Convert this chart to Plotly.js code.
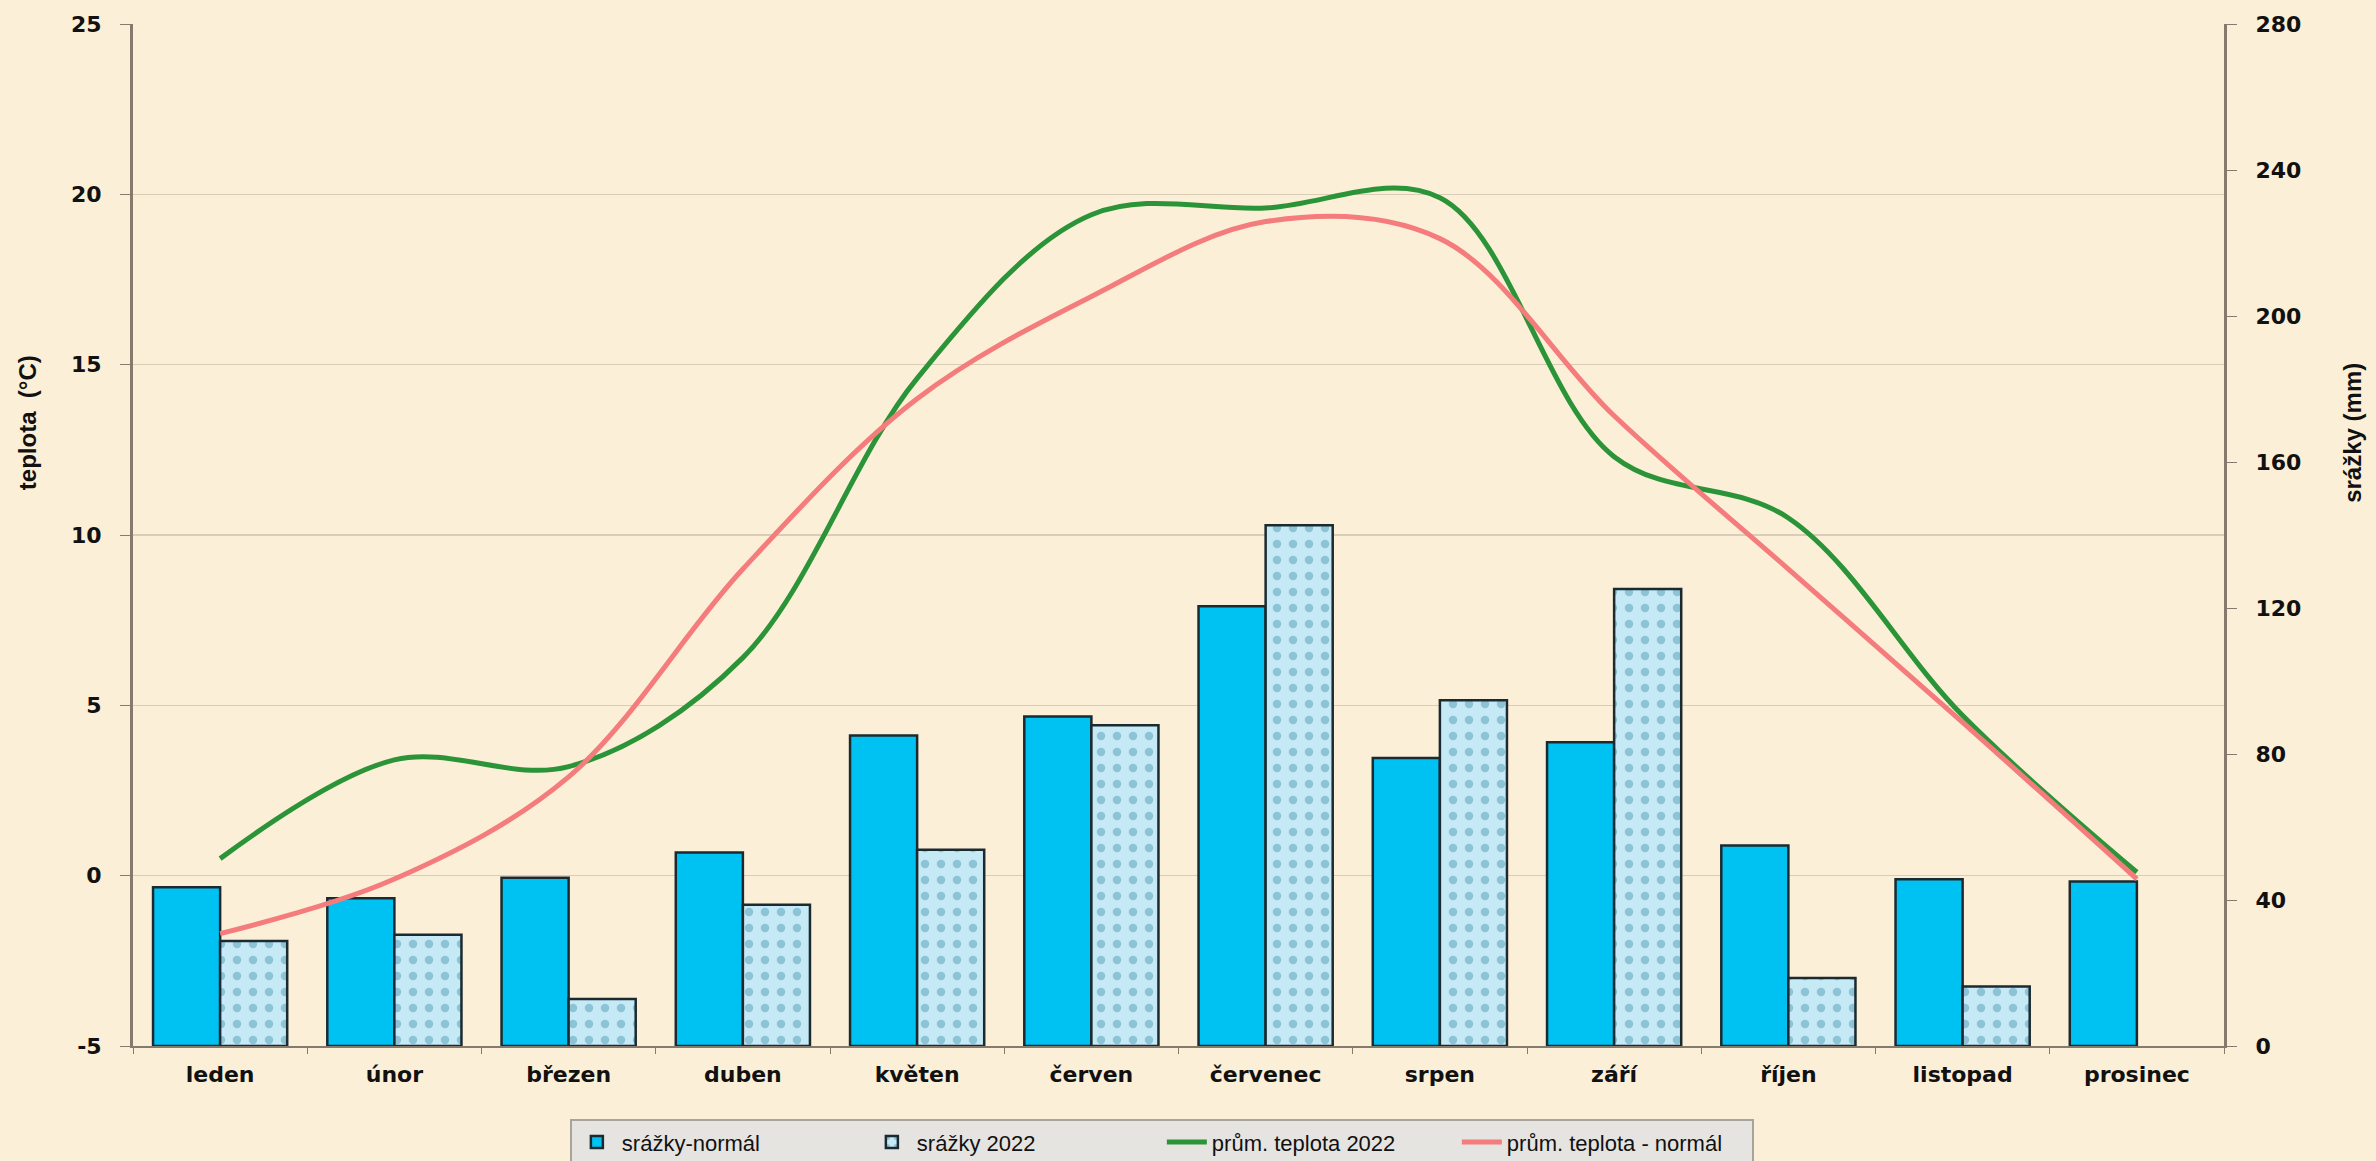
<!DOCTYPE html>
<html>
<head>
<meta charset="utf-8">
<script src="https://cdn.plot.ly/plotly-3.0.1.min.js"></script>
<style>
  html, body { margin: 0; padding: 0; background: #fcefd7; }
  #chart { width: 2376px; height: 1161px; }
</style>
</head>
<body>
<div id="chart"></div>
<script>
// Categories (months)
const months = ["leden", "únor", "březen", "duben", "květen", "červen",
                "červenec", "srpen", "září", "říjen", "listopad", "prosinec"];

// Precipitation (mm) – right axis
const srazkyNormal = [43.5, 40.5, 46.1, 53.0, 85.1, 90.3, 120.5, 78.9, 83.2, 54.9, 45.7, 45.1];
const srazky2022   = [28.8, 30.5, 12.9, 38.7, 53.8, 87.9, 142.7, 94.7, 125.2, 18.6, 16.3, null];

// Mean temperature (°C) – left axis
const teplota2022   = [0.5, 3.4, 3.2, 6.4, 14.6, 19.4, 19.6, 19.9, 12.3, 10.5, 4.7, 0.1];
const teplotaNormal = [-1.7, -0.1, 2.9, 9.0, 14.0, 17.0, 19.2, 18.7, 13.5, 9.0, 4.5, -0.1];

// Axis ticks
const tempTicks = [-5, 0, 5, 10, 15, 20, 25];
const tempTickLabels = ["-5", "0", "5", "10", "15", "20", "25"];
const mmTicks = [0, 40, 80, 120, 160, 200, 240, 280];

const tickFont = { family: "DejaVu Sans, Verdana, sans-serif", size: 22, color: "#111111", weight: "bold" };
const titleFont = { family: "Liberation Sans Narrow, Arial Narrow, Liberation Sans, sans-serif", size: 24, color: "#111111", weight: "bold" };
const axisLine = "#857a6b";

const traces = [
  {
    type: "bar", name: "srážky-normál", x: months, y: srazkyNormal, yaxis: "y",
    marker: { color: "#00c2f2", line: { color: "#1b2a30", width: 2.5 } }
  },
  {
    type: "bar", name: "srážky 2022", x: months, y: srazky2022, yaxis: "y",
    marker: {
      color: "#bfe6f2",
      line: { color: "#1b2a30", width: 2.5 },
      pattern: { shape: ".", fgcolor: "#8cc3d6", bgcolor: "#c6eaf5", size: 16, solidity: 0.22, fillmode: "replace" }
    }
  },
  {
    type: "scatter", mode: "lines", name: "prům. teplota 2022", x: months, y: teplota2022, yaxis: "y2",
    line: { color: "#2b9438", width: 5, shape: "spline", smoothing: 1 }
  },
  {
    type: "scatter", mode: "lines", name: "prům. teplota - normál", x: months, y: teplotaNormal, yaxis: "y2",
    line: { color: "#f47c7c", width: 5, shape: "spline", smoothing: 1 }
  }
];

const layout = {
  width: 2376, height: 1161,
  paper_bgcolor: "#fcefd7",
  plot_bgcolor: "#fcefd7",
  margin: { l: 133, r: 152, t: 24, b: 115, autoexpand: false },
  barmode: "group",
  bargap: 0.23,
  bargroupgap: 0,
  showlegend: true,
  legend: {
    orientation: "h",
    xref: "container", yref: "container",
    x: 0.489, xanchor: "center",
    y: 0.036, yanchor: "top",
    bgcolor: "#e6e4e0",
    bordercolor: "#a8a49c",
    borderwidth: 2,
    font: { family: "Liberation Sans Narrow, Arial Narrow, Liberation Sans, sans-serif", size: 22, color: "#111" },
    traceorder: "normal",
    itemwidth: 40,
    entrywidth: 240
  },
  xaxis: {
    type: "category",
    tickfont: tickFont,
    showgrid: false,
    showline: true, linecolor: axisLine, linewidth: 2,
    ticks: "outside", tickson: "boundaries", ticklen: 6, tickcolor: axisLine,
    ticklabelstandoff: 8
  },
  yaxis: {
    side: "right",
    range: [0, 280],
    tickvals: mmTicks,
    tickfont: tickFont,
    showgrid: false,
    zeroline: false,
    showline: true, linecolor: axisLine, linewidth: 3,
    ticks: "outside", ticklen: 10, tickcolor: axisLine,
    ticklabelstandoff: 14
  },
  yaxis2: {
    overlaying: "y",
    side: "left",
    range: [-5, 25],
    tickvals: tempTicks,
    ticktext: tempTickLabels,
    tickfont: tickFont,
    showgrid: true, gridcolor: "#d9cdb8", gridwidth: 1.5,
    zeroline: false,
    showline: true, linecolor: axisLine, linewidth: 3,
    ticks: "outside", ticklen: 10, tickcolor: axisLine,
    ticklabelstandoff: 14
  },
  annotations: [
    {
      text: "teplota  (°C)", xref: "paper", yref: "paper",
      x: -0.0504, y: 0.61, xanchor: "center", yanchor: "middle",
      textangle: -90, showarrow: false, font: titleFont
    },
    {
      text: "srážky (mm)", xref: "paper", yref: "paper",
      x: 1.0617, y: 0.60, xanchor: "center", yanchor: "middle",
      textangle: -90, showarrow: false, font: titleFont
    }
  ]
};

Plotly.newPlot("chart", traces, layout, { displayModeBar: false, staticPlot: true });
</script>
</body>
</html>
